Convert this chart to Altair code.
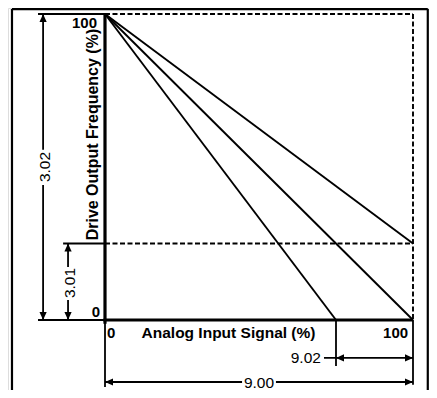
import altair as alt
import pandas as pd

# ---------------- data (percent units) ----------------
start_signal = 0
start_freq = 100
curve_end_signal = [100, 100, 75]
curve_end_freq = [25, 0, 0]
min_freq = 25
signal_max = 100
freq_max = 100
tick_labels = ["0", "100"]
dim_labels = ["3.02", "3.01", "9.02", "9.00"]
x_title = "Analog Input Signal (%)"
y_title = "Drive Output Frequency (%)"

FONT = "Liberation Sans, Arial, sans-serif"

xs = alt.Scale(domain=[0, 100], range=[97, 405], zero=False, nice=False)
ys = alt.Scale(domain=[0, 100], range=[312, 6], zero=False, nice=False)


def seg_df(segs):
    return pd.DataFrame(segs, columns=["x", "y", "x2", "y2"])


def rules(segs, width=1.5, dash=None):
    kw = dict(color="black", strokeWidth=width, strokeCap="butt")
    if dash:
        kw["strokeDash"] = dash
    return alt.Chart(seg_df(segs)).mark_rule(**kw).encode(
        x=alt.X("x:Q", scale=xs, axis=None),
        y=alt.Y("y:Q", scale=ys, axis=None),
        x2="x2:Q",
        y2="y2:Q",
    )


# thick axes
thick = rules([
    (start_signal, -1.2, start_signal, freq_max),
    (-0.5, 0, signal_max, 0),
], width=3.2)

# the three curves
curves = rules([(start_signal, start_freq, ex, ey)
                for ex, ey in zip(curve_end_signal, curve_end_freq)], width=1.9)

# dashed guides
dashed = rules([
    (0, freq_max, signal_max, freq_max),
    (signal_max, freq_max, signal_max, 0),
    (0, min_freq, signal_max, min_freq),
], width=1.9, dash=[5, 2.5])

# dimension / extension lines
dim_x1, dim_x2 = -20.1, -12.0
yd1, yd2 = -12.4, -20.26
thin = rules([
    (-21.75, freq_max, 0, freq_max),
    (-21.75, 0, 0, 0),
    (-13.6, min_freq, 0, min_freq),
    (dim_x1, 0, dim_x1, 44.1),
    (dim_x1, 55.6, dim_x1, freq_max),
    (dim_x2, 0, dim_x2, 6.5),
    (dim_x2, 17.3, dim_x2, min_freq),
    (0, 0, 0, -21.9),
    (signal_max, 0, signal_max, -21.2),
    (75, 0, 75, -15.0),
    (71.1, yd1, signal_max, yd1),
    (0, yd2, 44.5, yd2),
    (55.5, yd2, signal_max, yd2),
], width=1.8)

# outer frame
frame = rules([
    (-30.2, 101.6, 104.8, 101.6),
    (-30.2, 101.6, -30.2, -30),
    (104.8, 101.6, 104.8, -30),
], width=2.2)

# arrowheads
arrow_df = pd.DataFrame({
    "x": [dim_x1, dim_x1, dim_x2, dim_x2, 75, signal_max, 0, signal_max],
    "y": [freq_max, 0, min_freq, 0, yd1, yd1, yd2, yd2],
    "dir": ["up", "down", "up", "down", "left", "right", "left", "right"],
})
arrows = alt.Chart(arrow_df).mark_point(
    filled=True, color="black", opacity=1, size=256, strokeWidth=0
).encode(
    x=alt.X("x:Q", scale=xs, axis=None),
    y=alt.Y("y:Q", scale=ys, axis=None),
    shape=alt.Shape("dir:N", legend=None, scale=alt.Scale(
        domain=["up", "down", "left", "right"],
        range=["M0,0L-0.45,1L0.45,1Z", "M0,0L-0.45,-1L0.45,-1Z",
               "M0,0L1,-0.45L1,0.45Z", "M0,0L-1,-0.45L-1,0.45Z"])),
)


def texts(rows, align, size, weight="normal", angle=0, baseline="alphabetic"):
    df = pd.DataFrame(rows, columns=["x", "y", "t"])
    return alt.Chart(df).mark_text(
        align=align, baseline=baseline, font=FONT, fontSize=size,
        fontWeight=weight, angle=angle, color="black"
    ).encode(
        x=alt.X("x:Q", scale=xs, axis=None),
        y=alt.Y("y:Q", scale=ys, axis=None),
        text="t:N",
    )


tick_right = texts([(-2.6, 95.4, tick_labels[1]), (-1.6, 1.0, tick_labels[0]),
                    (98.4, -5.9, tick_labels[1])], "right", 15, "bold")
tick_left = texts([(0.65, -5.9, tick_labels[0])], "left", 15, "bold")
xt = texts([(40.1, -5.72, x_title)], "center", 15.5, "bold")
yt = texts([(-2.4, 60.6, y_title)], "center", 16, "bold", angle=270)
dim_rot = texts([(-18.0, 50.0, dim_labels[0]), (-9.9, 12.1, dim_labels[1])],
                "center", 15.5, angle=270)
dim_r = texts([(70.1, -14.05, dim_labels[2])], "right", 15.5)
dim_c = texts([(50, -22.2, dim_labels[3])], "center", 15.5)

chart = alt.layer(
    frame, dashed, thin, curves, thick, arrows,
    tick_right, tick_left, xt, yt, dim_rot, dim_r, dim_c
).properties(
    width=421, height=382, padding=0, autosize=alt.AutoSizeParams(type="none")
).configure_view(stroke=None).configure(background="white")

chart.save("out.html", embed_options={"renderer": "svg", "actions": False})
